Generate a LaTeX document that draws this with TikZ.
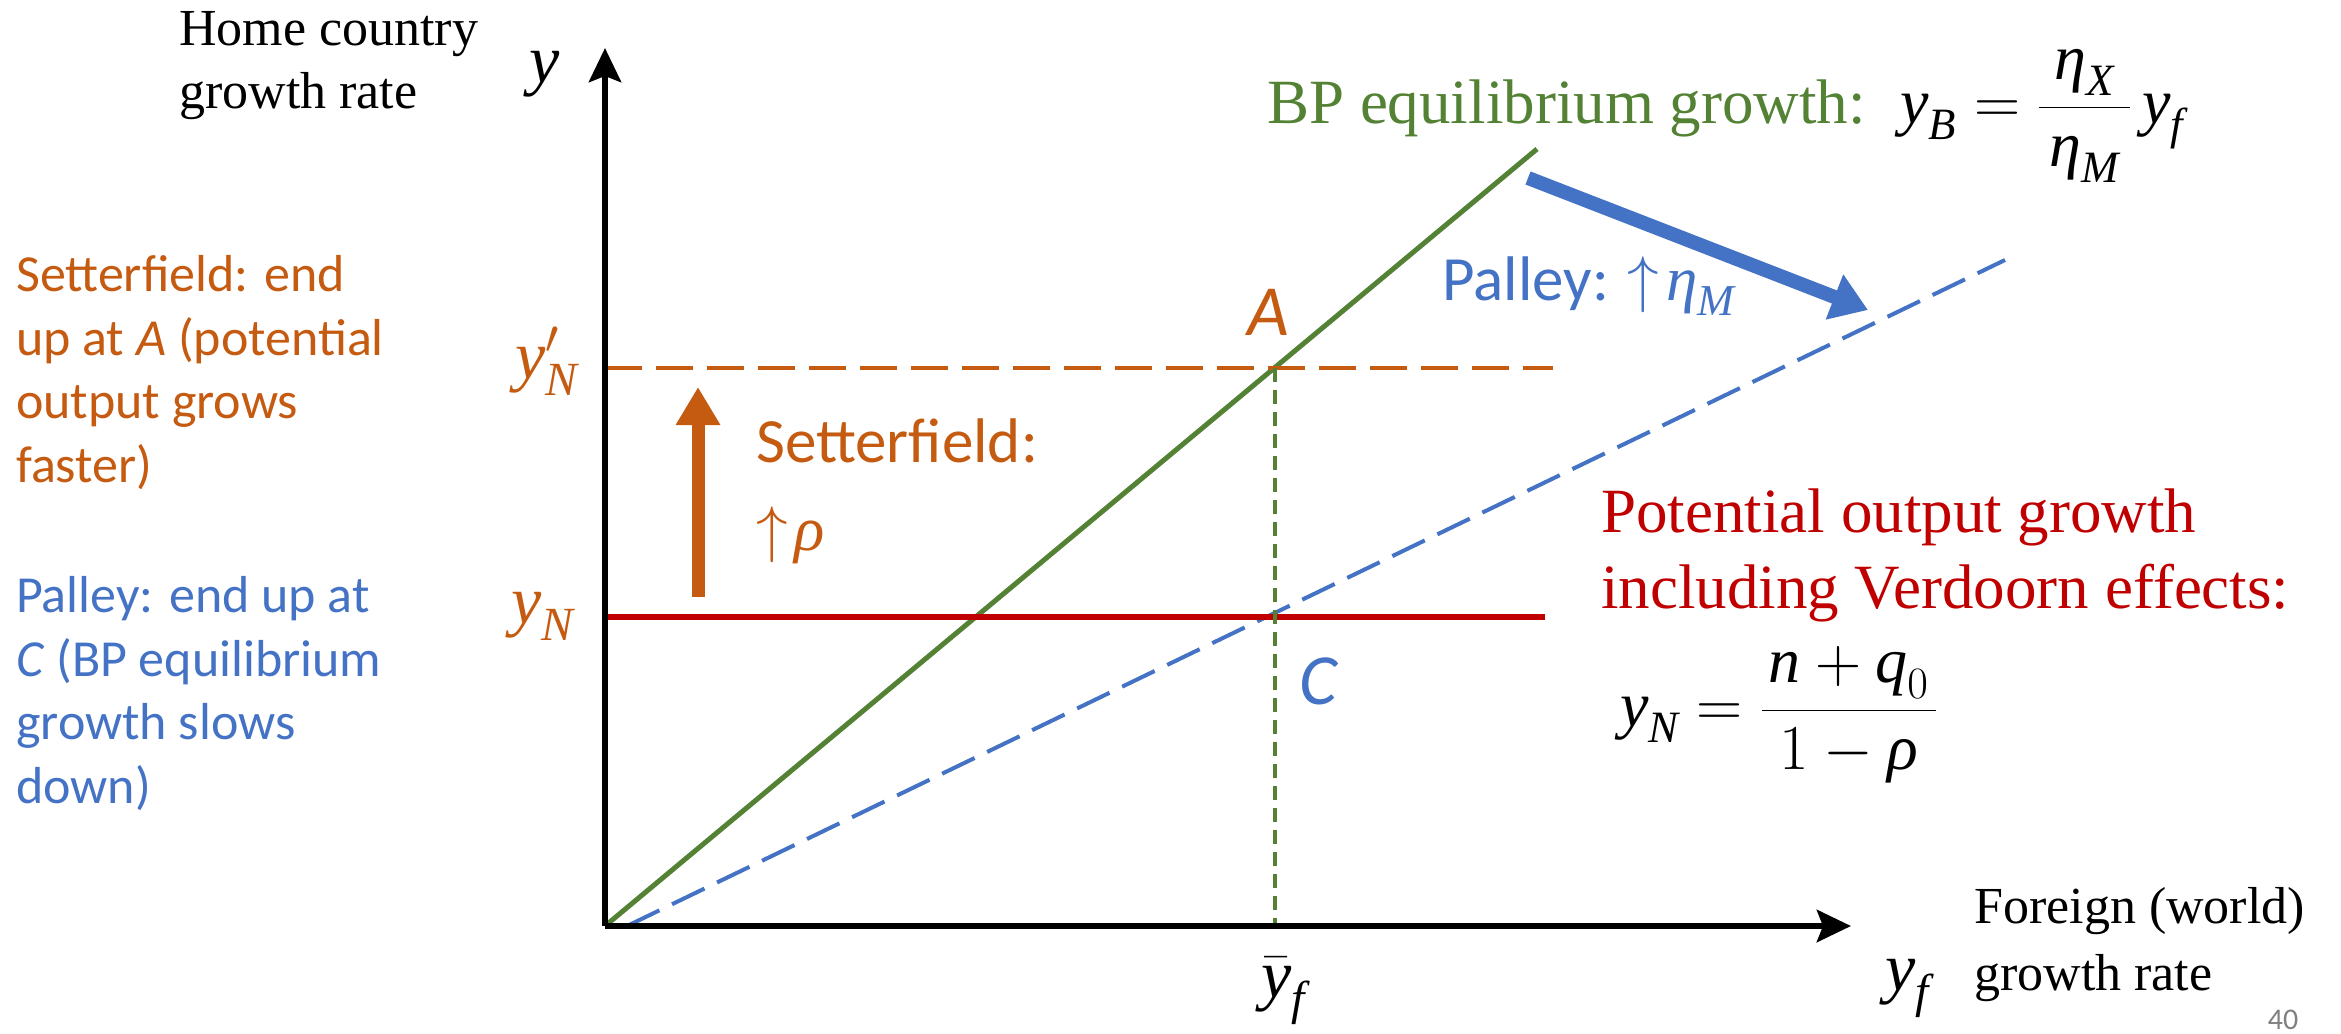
\RequirePackage{fix-cm}
\documentclass[tikz,border=0pt]{standalone}
\usepackage{amsmath}
\usepackage{fontspec}
\setmainfont{Liberation Serif}
\newfontfamily\calibri{Carlito}
\newfontfamily\tnr{Liberation Serif}
\usetikzlibrary{arrows.meta, positioning}

\definecolor{setorange}{HTML}{C55A11}
\definecolor{palblue}{HTML}{4472C4}
\definecolor{bpgreen}{HTML}{548235}
\definecolor{potred}{HTML}{C00000}

\newcommand{\mv}[1]{\text{\tnr\itshape #1}}
\newcommand{\fs}[2]{\fontsize{#1}{#2}\selectfont}

\begin{document}
\begin{tikzpicture}[
  x=1pt, y=-1pt,
  every node/.style={inner sep=0pt},
  axis/.style={line width=6.5pt, -{Stealth[length=34pt, width=32pt, inset=6pt]}},
  bpline/.style={bpgreen, line width=5pt},
  bpnew/.style={palblue, line width=4pt, dash pattern=on 36pt off 14pt},
  ynline/.style={potred, line width=6pt},
  ynnew/.style={setorange, line width=4.5pt, dash pattern=on 37pt off 14pt},
  guide/.style={bpgreen, line width=3.5pt, dash pattern=on 14pt off 8pt},
  movearrow/.style={line width=13pt, -{Triangle[length=38pt, width=42pt]}},
  serif/.style={font=\tnr\fs{52}{63}, align=left},
  note/.style={font=\calibri\fs{52}{63.5}, align=left},
  axlab/.style={font=\fs{68}{80}},
  point/.style={font=\calibri\itshape\fs{72}{80}},
]
\useasboundingbox (0,0) rectangle (2341,1033);

% Points of the diagram
\coordinate (O) at (605,926);
\coordinate (ytop) at (605,48);
\coordinate (xend) at (1851,926);
\coordinate (bpend) at (1537,149);
\coordinate (bpstart) at (627,926);
\coordinate (bpnewend) at (2005,260);
\coordinate (ynl) at (605,617);
\coordinate (ynr) at (1545,617);
\coordinate (ynpl) at (605,368);
\coordinate (ynpr) at (1553,368);
\coordinate (A) at (1275,368);
\coordinate (ybar) at (1275,926);
\coordinate (up0) at (698,597);
\coordinate (up1) at (698,387);
\coordinate (pal0) at (1528,178);
\coordinate (pal1) at (1868,310);

% Curves
\draw[bpline] (O) -- (bpend);
\draw[bpnew] (bpstart) -- (bpnewend);
\draw[ynline] (ynl) -- (ynr);
\draw[ynnew] (ynpl) -- (ynpr);
\draw[guide] (A) -- (ybar);

% Shifts
\draw[movearrow, setorange] (up0) -- (up1);
\draw[movearrow, palblue, line width=14pt, -{Triangle[length=36pt, width=46pt]}] (pal0) -- (pal1);

% Axes
\draw[axis] (O) -- (ytop);
\draw[axis] (O) -- (xend);

% Axis labels (multi-line nodes sit on their last line)
\node[serif, anchor=base west] (home) at (179,108) {Home country\\growth rate};
\node[axlab, anchor=base] (ylab) at (545,82) {$\mv{y}$};
\node[axlab, anchor=base] (ybarlab) at (1283,997) {$\bar{\mv{y}}_{\mv{f}}$};
\node[axlab, anchor=base west] (yflab) at (1885,990) {$\mv{y}_{\mv{f}}$};
\node[font=\tnr\fs{52}{67}, align=left, anchor=base west] (foreign) at (1974,990) {Foreign (world)\\growth rate};
\node[axlab, text=setorange, anchor=base east] (ynplab) at (578,378) {$\mv{y}'_{\mv{N}}$};
\node[axlab, text=setorange, anchor=base east] (ynlab) at (574,623) {$\mv{y}_{\mv{N}}$};

% Left notes
\node[note, text=setorange, anchor=base west] (setnote) at (16,482)
  {Setterfield: end\\up at \textit{A} (potential\\output grows\\faster)};
\node[note, text=palblue, anchor=base west] (palnote) at (16,803)
  {Palley: end up at\\\textit{C} (BP equilibrium\\growth slows\\down)};

% Points
\node[point, text=setorange] (Alab) at (1268,312) {A};
\node[point, text=palblue] (Clab) at (1318,681) {C};

% Shift labels
\node[font=\calibri\fs{63}{88}, text=setorange, align=left, anchor=base west] (setlab) at (756,550)
  {Setterfield:\\$\uparrow\!\mv{ρ}$};
\node[font=\calibri\fs{63}{70}, text=palblue, anchor=base west] (pallab) at (1442,300)
  {Palley: $\uparrow\!\mv{η}_{\mv{M}}$};

% BP equilibrium
\node[font=\tnr\fs{63}{70}, text=bpgreen, anchor=base west] (bplab) at (1267,123) {BP equilibrium growth:};
\node[font=\fs{64}{70}, anchor=base west] (bpeq) at (1900,123)
  {$\mv{y}_{\mv{B}}=\dfrac{\,\mv{η}_{\mv{X}}\,}{\,\mv{η}_{\mv{M}}\,}\,\mv{y}_{\mv{f}}$};

% Potential output
\node[font=\tnr\fs{63}{76}, text=potred, align=left, anchor=base west] (potlab) at (1601,608)
  {Potential output growth\\including Verdoorn effects:};
\node[font=\fs{64}{70}, anchor=base west] (yneq) at (1620,726)
  {$\mv{y}_{\mv{N}}=\dfrac{\mkern2mu\mv{n}+\mv{q}_0\mkern2mu}{\mkern2mu 1-\mv{ρ}\mkern2mu}$};

% Slide number
\node[font=\calibri\fs{30}{30}, text=gray] (pagenum) at (2283,1020) {40};
\end{tikzpicture}
\end{document}
